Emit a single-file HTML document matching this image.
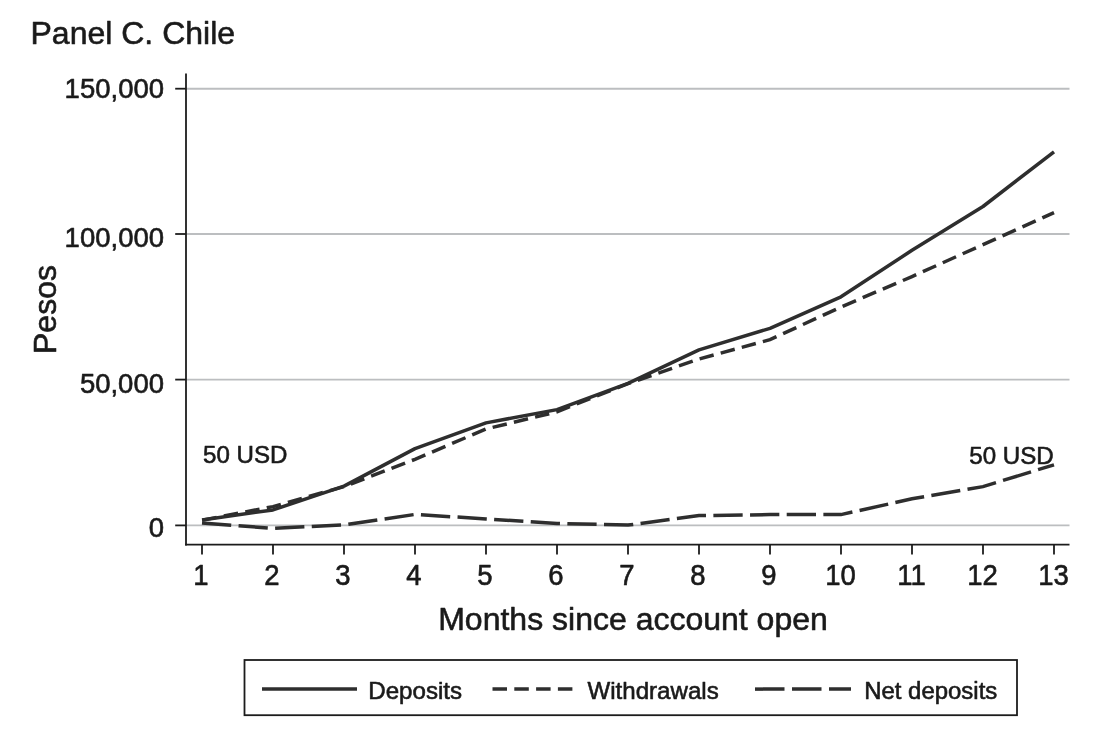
<!DOCTYPE html>
<html><head><meta charset="utf-8"><title>Panel C. Chile</title>
<style>
html,body{margin:0;padding:0;background:#fff;}
body{width:1102px;height:754px;overflow:hidden;}
svg{display:block;}
text{font-family:"Liberation Sans",sans-serif;fill:#1a1a1a;stroke:#1a1a1a;stroke-width:0.6px;stroke-linejoin:round;}
.tk{font-size:27.5px;}
.ttl{font-size:32px;}
.lg{font-size:24.1px;}
</style></head><body>
<svg width="1102" height="754" viewBox="0 0 1102 754">
<rect width="1102" height="754" fill="#ffffff"/>
<text class="ttl" x="30.5" y="44.2">Panel C. Chile</text>

<line x1="186" y1="88.7" x2="1069.5" y2="88.7" stroke="#bcbec0" stroke-width="1.9"/>
<line x1="186" y1="234" x2="1069.5" y2="234" stroke="#bcbec0" stroke-width="1.9"/>
<line x1="186" y1="379.6" x2="1069.5" y2="379.6" stroke="#bcbec0" stroke-width="1.9"/>
<line x1="186" y1="525.4" x2="1069.5" y2="525.4" stroke="#bcbec0" stroke-width="1.9"/>
<line x1="186" y1="73.5" x2="186" y2="545.5" stroke="#1c1c1c" stroke-width="1.8"/>
<line x1="185.1" y1="544.6" x2="1069.5" y2="544.6" stroke="#1c1c1c" stroke-width="1.8"/>
<line x1="175.2" y1="88.7" x2="186" y2="88.7" stroke="#1c1c1c" stroke-width="1.8"/>
<text class="tk" transform="translate(164,97.7) scale(1,1.02)" text-anchor="end">150,000</text>
<line x1="175.2" y1="234" x2="186" y2="234" stroke="#1c1c1c" stroke-width="1.8"/>
<text class="tk" transform="translate(164,246.8) scale(1,1.02)" text-anchor="end">100,000</text>
<line x1="175.2" y1="379.6" x2="186" y2="379.6" stroke="#1c1c1c" stroke-width="1.8"/>
<text class="tk" transform="translate(164,393.1) scale(1,1.02)" text-anchor="end">50,000</text>
<line x1="175.2" y1="525.4" x2="186" y2="525.4" stroke="#1c1c1c" stroke-width="1.8"/>
<text class="tk" transform="translate(164,537.2) scale(1,1.02)" text-anchor="end">0</text>
<line x1="202" y1="544.6" x2="202" y2="554.5" stroke="#1c1c1c" stroke-width="1.8"/>
<text class="tk" transform="translate(201,584.8) scale(1,1.045)" text-anchor="middle">1</text>
<line x1="273" y1="544.6" x2="273" y2="554.5" stroke="#1c1c1c" stroke-width="1.8"/>
<text class="tk" transform="translate(272,584.8) scale(1,1.045)" text-anchor="middle">2</text>
<line x1="344" y1="544.6" x2="344" y2="554.5" stroke="#1c1c1c" stroke-width="1.8"/>
<text class="tk" transform="translate(343,584.8) scale(1,1.045)" text-anchor="middle">3</text>
<line x1="415" y1="544.6" x2="415" y2="554.5" stroke="#1c1c1c" stroke-width="1.8"/>
<text class="tk" transform="translate(414,584.8) scale(1,1.045)" text-anchor="middle">4</text>
<line x1="486" y1="544.6" x2="486" y2="554.5" stroke="#1c1c1c" stroke-width="1.8"/>
<text class="tk" transform="translate(485,584.8) scale(1,1.045)" text-anchor="middle">5</text>
<line x1="557" y1="544.6" x2="557" y2="554.5" stroke="#1c1c1c" stroke-width="1.8"/>
<text class="tk" transform="translate(556,584.8) scale(1,1.045)" text-anchor="middle">6</text>
<line x1="628" y1="544.6" x2="628" y2="554.5" stroke="#1c1c1c" stroke-width="1.8"/>
<text class="tk" transform="translate(627,584.8) scale(1,1.045)" text-anchor="middle">7</text>
<line x1="699" y1="544.6" x2="699" y2="554.5" stroke="#1c1c1c" stroke-width="1.8"/>
<text class="tk" transform="translate(698,584.8) scale(1,1.045)" text-anchor="middle">8</text>
<line x1="770" y1="544.6" x2="770" y2="554.5" stroke="#1c1c1c" stroke-width="1.8"/>
<text class="tk" transform="translate(769,584.8) scale(1,1.045)" text-anchor="middle">9</text>
<line x1="841" y1="544.6" x2="841" y2="554.5" stroke="#1c1c1c" stroke-width="1.8"/>
<text class="tk" transform="translate(840.5,584.8) scale(1,1.045)" text-anchor="middle">10</text>
<line x1="912" y1="544.6" x2="912" y2="554.5" stroke="#1c1c1c" stroke-width="1.8"/>
<text class="tk" transform="translate(911.5,584.8) scale(1,1.045)" text-anchor="middle">11</text>
<line x1="983" y1="544.6" x2="983" y2="554.5" stroke="#1c1c1c" stroke-width="1.8"/>
<text class="tk" transform="translate(982.5,584.8) scale(1,1.045)" text-anchor="middle">12</text>
<line x1="1054" y1="544.6" x2="1054" y2="554.5" stroke="#1c1c1c" stroke-width="1.8"/>
<text class="tk" transform="translate(1053.5,584.8) scale(1,1.045)" text-anchor="middle">13</text>
<text class="ttl" x="633" y="629.7" text-anchor="middle">Months since account open</text>
<text class="ttl" transform="translate(56,309.5) rotate(-90)" text-anchor="middle">Pesos</text>
<polyline points="202,522.9 273,528.4 344,524.9 415,514.4 486,518.9 557,523.4 628,525.1 699,515.6 770,514.6 841,514.6 912,498.8 983,486.6 1054,464.8" fill="none" stroke="#2e2e2e" stroke-width="3.5" stroke-dasharray="29.3 7.37"/>
<polyline points="202,520.2 273,506.6 344,486.6 415,459.3 486,429.0 557,411.8 628,383.6 699,359.0 770,339.7 841,307.0 912,276.6 983,244.6 1054,212.7" fill="none" stroke="#2e2e2e" stroke-width="3.5" stroke-dasharray="14.54 7.3" stroke-dashoffset="-0.4"/>
<polyline points="202,519.9 273,509.9 344,486.1 415,448.6 486,422.9 557,409.6 628,383.3 699,349.9 770,328.3 841,296.8 912,250.3 983,206.5 1054,151.8" fill="none" stroke="#2e2e2e" stroke-width="3.5" stroke-linejoin="round"/>
<text class="lg" x="203" y="463.1">50 USD</text>
<text class="lg" x="1053.7" y="464" text-anchor="end">50 USD</text>
<rect x="244.5" y="660" width="772.5" height="55.2" fill="#fff" stroke="#1c1c1c" stroke-width="1.8"/>
<line x1="262" y1="689.1" x2="357" y2="689.1" stroke="#2e2e2e" stroke-width="3.5"/>
<text class="lg" x="368.3" y="698.7">Deposits</text>
<line x1="492.5" y1="689.1" x2="573" y2="689.1" stroke="#2e2e2e" stroke-width="3.5" stroke-dasharray="14.5 7.3"/>
<text class="lg" x="587.5" y="698.7">Withdrawals</text>
<line x1="755" y1="689.1" x2="851" y2="689.1" stroke="#2e2e2e" stroke-width="3.5" stroke-dasharray="29.5 7.5"/>
<text class="lg" x="864.2" y="698.7" style="font-size:23.95px">Net deposits</text>
</svg></body></html>
